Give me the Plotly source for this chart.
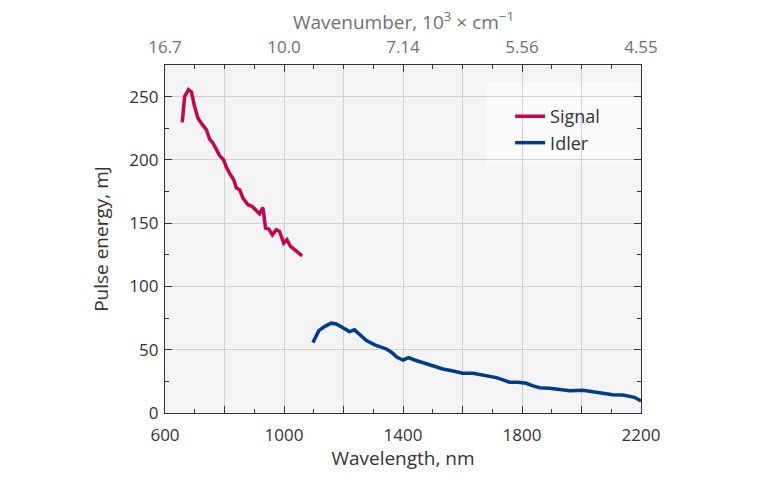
import plotly.graph_objects as go

signal_wl = [658, 666, 679, 689, 699, 711, 725, 739, 750, 761, 772, 783, 797, 806, 817, 831, 840, 851,
             862, 879, 893, 907, 918, 929, 938, 949, 961, 974, 985, 999, 1010, 1022, 1041, 1061]
signal_e = [229.7, 250, 255.5, 253.7, 242.6, 233, 228, 224, 216.5, 213.4, 208.6, 203.6, 200, 194.3,
            189.6, 184.3, 177.7, 176.4, 169.8, 164.6, 163.2, 160, 157.4, 162.4, 146, 145.3, 140.8,
            144.8, 143.4, 134.3, 136.9, 131.6, 128.4, 124.2]

idler_wl = [1097, 1117, 1136, 1159, 1176, 1198, 1220, 1237, 1254, 1277, 1305, 1344, 1361, 1380, 1400,
            1419, 1439, 1467, 1501, 1534, 1568, 1601, 1635, 1680, 1714, 1736, 1758, 1786, 1814, 1837,
            1859, 1893, 1926, 1960, 2005, 2038, 2072, 2105, 2139, 2162, 2178, 2200]
idler_e = [55.6, 65.1, 68.3, 71, 70.4, 67.5, 64.3, 65.7, 61.7, 57.2, 53.8, 50.6, 48, 44, 41.9,
           43.8, 41.9, 39.8, 37.2, 34.8, 33.2, 31.4, 31.4, 29.3, 28, 26.1, 24.3, 24.3, 23.5, 21.4,
           20, 19.5, 18.7, 17.6, 18, 16.9, 15.6, 14.5, 14.2, 13.4, 12.4, 9.5]

bottom_tickvals = [600, 800, 1000, 1200, 1400, 1600, 1800, 2000, 2200]
bottom_ticktext = ["600", "", "1000", "", "1400", "", "1800", "", "2200"]
top_tickvals = [600, 1000, 1400, 1800, 2200]
top_ticktext = ["16.7", "10.0", "7.14", "5.56", "4.55"]

FONT = "Open Sans, Noto Sans, sans-serif"
AXC = "#333333"
GREY = "#707070"

fig = go.Figure()
fig.add_trace(go.Scatter(x=signal_wl, y=signal_e, mode="lines", name="Signal",
                         line=dict(color="#c0064f", width=3.5)))
fig.add_trace(go.Scatter(x=idler_wl, y=idler_e, mode="lines", name="Idler",
                         line=dict(color="#003d86", width=3.5)))

fig.update_layout(
    width=768, height=480,
    margin=dict(l=165, r=127, t=65, b=67),
    paper_bgcolor="white", plot_bgcolor="#f4f4f4",
    font=dict(family=FONT, size=17, color=AXC),
    xaxis=dict(range=[600, 2200], tickvals=bottom_tickvals, ticktext=bottom_ticktext,
               ticks="inside", ticklen=7, tickcolor=AXC, showline=True, linecolor=AXC,
               linewidth=1.2, mirror=True, showgrid=True, gridcolor="#cfcfcf", gridwidth=1,
               zeroline=False, ticklabelstandoff=6,
               minor=dict(dtick=100, ticks="inside", ticklen=4, tickcolor=AXC, showgrid=False),
               title=dict(text="Wavelength, nm", font=dict(size=19, color=AXC), standoff=0),
               tickfont=dict(size=17, color=AXC)),
    xaxis2=dict(range=[600, 2200], overlaying="x", side="top", anchor="y",
                tickvals=top_tickvals, ticktext=top_ticktext, ticks="inside", ticklen=7,
                tickcolor=AXC, showgrid=False, zeroline=False, showline=False,
                ticklabelstandoff=8,
                minor=dict(dtick=100, ticks="inside", ticklen=4, tickcolor=AXC, showgrid=False),
                tickfont=dict(size=17, color=GREY)),
    yaxis=dict(range=[0, 275], dtick=50, ticks="inside", ticklen=7, tickcolor=AXC,
               showline=True, linecolor=AXC, linewidth=1.2, mirror="ticks",
               showgrid=True, gridcolor="#cfcfcf", gridwidth=1, zeroline=False,
               ticklabelstandoff=2,
               minor=dict(dtick=25, ticks="inside", ticklen=4, tickcolor=AXC, showgrid=False),
               title=dict(text="Pulse energy, mJ", font=dict(size=19, color=AXC), standoff=15),
               tickfont=dict(size=17, color=AXC)),
    legend=dict(x=0.725, y=0.905, xanchor="left", yanchor="top", bgcolor="rgba(0,0,0,0)",
                font=dict(size=18, color=AXC), borderwidth=0, tracegroupgap=0),
    showlegend=True,
    shapes=[dict(type="rect", xref="paper", yref="paper", x0=0.676, x1=0.997, y0=0.713, y1=0.951,
                 fillcolor="#fafafa", line=dict(width=0), layer="below")],
    annotations=[dict(text="Wavenumber, 10<sup>3</sup> × cm<sup>−1</sup>", xref="paper", yref="paper",
                      x=0.5, y=1.127, xanchor="center", yanchor="middle", showarrow=False,
                      font=dict(size=19, color=GREY))],
)
# helper so the top axis is drawn
fig.add_trace(go.Scatter(x=[600, 2200], y=[None, None], xaxis="x2", showlegend=False,
                         hoverinfo="skip", mode="lines"))

fig.write_html("out.html")
